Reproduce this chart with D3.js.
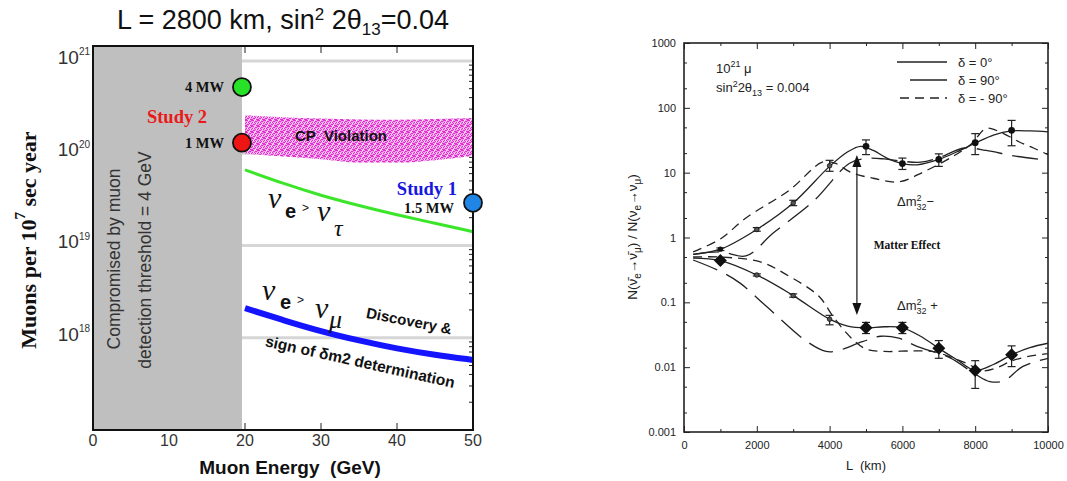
<!DOCTYPE html>
<html><head><meta charset="utf-8">
<script src="https://cdn.jsdelivr.net/npm/d3@7"></script>
<style>body{margin:0;background:#fff} text{white-space:pre}</style>
</head><body><svg id="c" width="1067" height="481"></svg>
<script>
// ---------- LEFT PANEL DATA ----------
const energyGrid   = [20, 25, 30, 35, 40, 45, 50];
const nuTauLimit   = [6.6e19, 4.7e19, 3.47e19, 2.7e19, 2.14e19, 1.74e19, 1.41e19];
const nuMuLimit    = [2.09e18, 1.55e18, 1.17e18, 9.3e17, 7.6e17, 6.5e17, 5.75e17];
const cpTop        = [2.57e20, 2.45e20, 2.38e20, 2.32e20, 2.3e20, 2.35e20, 2.4e20];
const cpBottom     = [9.9e19, 9.2e19, 8.6e19, 7.9e19, 7.9e19, 8.4e19, 9.4e19];
const facilityLabels = ["4 MW", "1 MW", "1.5 MW"];
const facilityEnergy = [19.6, 19.6, 50];
const facilityMuons  = [5.2e20, 1.3e20, 2.9e19];
const thresholdEnergy = 19.6;
const leftXTicks   = [0, 10, 20, 30, 40, 50];
const leftYDecades = [1e18, 1e19, 1e20, 1e21];
const leftYExps    = ["18", "19", "20", "21"];

// ---------- RIGHT PANEL DATA ----------
const upperDelta0   = [[250,0.55],[1000,0.66],[2000,1.33],[3000,3.4],[4000,12.5],[4500,21],[4850,25.5],[5200,22],[5600,16.5],[6000,13.8],[6400,13.2],[7000,16],[7500,21],[8000,28.5],[8500,38],[9000,44],[9500,44],[10000,42.5]];
const upperDeltaM90 = [[250,0.6],[1000,0.95],[1700,2],[2900,5.4],[3800,14.5],[4150,14],[4600,10],[5200,8.2],[5900,7.2],[6600,10.4],[7400,18],[7900,28],[8300,48],[8700,42],[9200,30],[9600,24],[10000,19]];
const upperDelta90  = [[250,0.55],[1000,0.6],[1700,0.52],[2450,1.17],[3550,3.6],[4550,14],[5000,16.5],[5500,16.3],[6000,15],[6500,14.5],[7000,17],[7700,24],[8300,22],[9100,18],[10000,15.5]];
const lowerDelta0   = [[250,0.48],[1000,0.44],[2000,0.264],[3000,0.127],[4000,0.055],[4500,0.043],[5000,0.0405],[5500,0.042],[6000,0.0405],[6500,0.03],[7000,0.0195],[7500,0.013],[8000,0.0089],[8500,0.011],[9000,0.0155],[9500,0.02],[10000,0.0234]];
const lowerDeltaM90 = [[250,0.5],[1000,0.5],[2100,0.42],[2800,0.27],[3700,0.125],[4100,0.06],[4600,0.028],[5000,0.019],[5500,0.0175],[6300,0.0178],[6900,0.0172],[7400,0.0137],[7800,0.0112],[8200,0.0088],[8600,0.0098],[9000,0.0125],[9500,0.0148],[10000,0.0162]];
const lowerDelta90  = [[250,0.45],[1000,0.3],[1550,0.196],[2270,0.086],[3370,0.025],[3900,0.0175],[4200,0.0178],[4900,0.0247],[5400,0.03],[5900,0.028],[6400,0.021],[7300,0.014],[8000,0.0078],[8400,0.006],[8800,0.0062],[9300,0.0102],[10000,0.0137]];

const pointL        = [1000, 2000, 3000, 4000, 5000, 6000, 7000, 8000, 9000];
const upperPoints   = [0.66, 1.33, 3.4, 12.8, 25.5, 13.8, 16, 29, 45];
const upperErrLo    = [0.63, 1.25, 3.1, 10.5, 19, 11.2, 12.5, 19, 26];
const upperErrHi    = [0.69, 1.42, 3.75, 15.5, 32, 16.8, 19.5, 40, 64];
const lowerPoints   = [0.44, 0.264, 0.127, 0.055, 0.0405, 0.0405, 0.0195, 0.0089, 0.0155];
const lowerErrLo    = [0.42, 0.255, 0.12, 0.045, 0.033, 0.033, 0.0137, 0.0047, 0.0102];
const lowerErrHi    = [0.46, 0.275, 0.135, 0.063, 0.049, 0.049, 0.0257, 0.0126, 0.0213];
const bigMarker     = [true, false, false, false, true, true, true, true, true];
const rightXTicks   = [0, 2000, 4000, 6000, 8000, 10000];
const rightXMinor   = [1000, 3000, 5000, 7000, 9000];
const rightYDecades = [0.001, 0.01, 0.1, 1, 10, 100, 1000];
const rightYLabels  = ["0.001", "0.01", "0.1", "1", "10", "100", "1000"];
const arrowL = 4750, arrowTop = 18.7, arrowBottom = 0.064;
const legendLabels = ["δ = 0°", "δ = 90°", "δ = - 90°"];

// ---------- helpers ----------
const svg = d3.select("#c");
svg.append("rect").attr("width", 1067).attr("height", 481).attr("fill", "#fff");

function rich(t, parts, base) {
  let cur = 0;
  parts.forEach(p => {
    const [s, type, opt] = p; const o = opt || {};
    const target = type === "sup" ? -base * (o.raise || 0.4) : type === "sub" ? base * (o.drop || 0.3) : 0;
    const ts = t.append("tspan").text(s).attr("dy", (target - cur).toFixed(2));
    if (type) ts.attr("font-size", o.size || base * 0.65);
    if (o.dx !== undefined) ts.attr("dx", o.dx);
    cur = target;
  });
}

const defs = svg.append("defs");
const pat = defs.append("pattern").attr("id", "cpPat").attr("width", 6).attr("height", 6).attr("patternUnits", "userSpaceOnUse");
pat.append("rect").attr("width", 6).attr("height", 6).attr("fill", "#f2a0e9");
[[0,0],[1,0],[3,1],[4,1],[5,0],[0,2],[2,2],[3,3],[5,3],[1,4],[2,4],[4,5],[0,5],[5,5]].forEach(([x, y]) =>
  pat.append("rect").attr("x", x).attr("y", y).attr("width", 1).attr("height", 1).attr("fill", "#dd30cc"));
[[2,0],[4,3],[1,2],[3,5]].forEach(([x, y]) =>
  pat.append("rect").attr("x", x).attr("y", y).attr("width", 1).attr("height", 1).attr("fill", "#fff0fc"));

// ================= LEFT PANEL =================
const xL = d3.scaleLinear().domain([0, 50]).range([93, 473]);
const yL = d3.scaleLog().domain([1e17, 1.45e21]).range([430, 46]);
const gL = svg.append("g");
const serif = "Liberation Serif, Times New Roman, serif";
const sans = "Liberation Sans, Arial, sans-serif";

yL.ticks().forEach(v => {
  const major = Math.abs(Math.log10(v) - Math.round(Math.log10(v))) < 1e-6;
  gL.append("line").attr("x1", xL(50)).attr("x2", xL(50) - (major ? 8 : 4))
    .attr("y1", yL(v)).attr("y2", yL(v)).attr("stroke", "#222").attr("stroke-width", 1);
});
leftXTicks.forEach(v => {
  gL.append("line").attr("x1", xL(v)).attr("x2", xL(v)).attr("y1", 430).attr("y2", 423).attr("stroke", "#222");
  gL.append("line").attr("x1", xL(v)).attr("x2", xL(v)).attr("y1", 46).attr("y2", 53).attr("stroke", "#222");
});

leftYDecades.forEach(v => {
  gL.append("line").attr("x1", xL(thresholdEnergy)).attr("x2", xL(50)).attr("y1", yL(v)).attr("y2", yL(v))
    .attr("stroke", "#d6d6d6").attr("stroke-width", 3);
});

gL.append("rect").attr("x", xL(0)).attr("y", yL.range()[1]).attr("width", xL(thresholdEnergy) - xL(0))
  .attr("height", yL.range()[0] - yL.range()[1]).attr("fill", "#bfbfbf");
gL.append("text").attr("transform", `translate(120,259) rotate(-90)`).attr("text-anchor", "middle")
  .attr("font-family", sans).attr("font-size", 17.5).attr("fill", "#333").text("Compromised by muon");
gL.append("text").attr("transform", `translate(151,260) rotate(-90)`).attr("text-anchor", "middle")
  .attr("font-family", sans).attr("font-size", 17.5).attr("fill", "#333").text("detection threshold = 4 GeV");

const cpData = energyGrid.map((e, i) => ({ e, lo: cpBottom[i], hi: cpTop[i] }));
gL.append("path").datum(cpData)
  .attr("d", d3.area().x(d => xL(d.e)).y0(d => yL(d.lo)).y1(d => yL(d.hi)).curve(d3.curveMonotoneX))
  .attr("fill", "url(#cpPat)");
gL.append("text").attr("x", 341).attr("y", 141).attr("text-anchor", "middle")
  .attr("font-family", sans).attr("font-weight", "bold").attr("font-size", 15).attr("fill", "#111").text("CP  Violation");

const lineL = d3.line().x(d => xL(d[0])).y(d => yL(d[1])).curve(d3.curveBasis);
gL.append("path").attr("d", lineL(energyGrid.map((e, i) => [e, nuTauLimit[i]])))
  .attr("fill", "none").attr("stroke", "#3be52a").attr("stroke-width", 3);
gL.append("path").attr("d", lineL(energyGrid.map((e, i) => [e, nuMuLimit[i]])))
  .attr("fill", "none").attr("stroke", "#1414ff").attr("stroke-width", 6);

gL.append("rect").attr("x", xL(0)).attr("y", 46).attr("width", xL(50) - xL(0)).attr("height", 384)
  .attr("fill", "none").attr("stroke", "#111").attr("stroke-width", 2);

const facColors = ["#27e227", "#ee1515", "#1f86e6"];
facilityLabels.forEach((lab, i) => {
  gL.append("circle").attr("cx", xL(facilityEnergy[i])).attr("cy", yL(facilityMuons[i])).attr("r", 9)
    .attr("fill", facColors[i]).attr("stroke", "#111").attr("stroke-width", 1.8);
});
const lab = (x, y, s, anchor, size, color) => gL.append("text").attr("x", x).attr("y", y).attr("text-anchor", anchor)
  .attr("font-family", serif).attr("font-weight", "bold").attr("font-size", size).attr("fill", color).text(s);
lab(224, yL(facilityMuons[0]) + 5, facilityLabels[0], "end", 14.5, "#111");
lab(224, yL(facilityMuons[1]) + 5, facilityLabels[1], "end", 14.5, "#111");
lab(454, 213, facilityLabels[2], "end", 14.5, "#111");
lab(177, 123, "Study 2", "middle", 18.5, "#e81a1a");
lab(457, 195, "Study 1", "end", 18.5, "#1717e0");

const nuTxt = (x, y, s, size, fam, style, weight) => gL.append("text").attr("x", x).attr("y", y)
  .attr("font-family", fam).attr("font-size", size).attr("font-style", style || "normal")
  .attr("font-weight", weight || "normal").attr("fill", "#111").text(s);
nuTxt(268, 208, "ν", 30, serif, "italic");
nuTxt(285, 218, "e", 20, sans, "normal", "bold");
nuTxt(302, 212, ">", 12, sans);
nuTxt(317, 221, "ν", 30, serif, "italic");
nuTxt(334, 236, "τ", 24, serif, "italic");

nuTxt(262, 300, "ν", 30, serif, "italic");
nuTxt(280, 309, "e", 20, sans, "normal", "bold");
nuTxt(297, 304, ">", 12, sans);
nuTxt(315, 318, "ν", 30, serif, "italic");
nuTxt(329, 328, "μ", 26, serif, "italic");
gL.append("text").attr("transform", "translate(408,326) rotate(11)").attr("text-anchor", "middle")
  .attr("font-family", sans).attr("font-weight", "bold").attr("font-size", 15).attr("fill", "#111").text("Discovery &");
gL.append("text").attr("transform", "translate(359,367) rotate(12.5)").attr("text-anchor", "middle")
  .attr("font-family", sans).attr("font-weight", "bold").attr("font-size", 15.5).attr("fill", "#111")
  .text("sign of δm2 determination");

leftYDecades.forEach((v, i) => {
  const t = gL.append("text").attr("x", 90).attr("y", yL(v) + 3).attr("text-anchor", "end")
    .attr("font-family", sans).attr("font-size", 19).attr("fill", "#333");
  rich(t, [["10", null], [leftYExps[i], "sup", { size: 10, raise: 0.45 }]], 19);
});
leftXTicks.forEach(v => {
  gL.append("text").attr("x", xL(v)).attr("y", 446).attr("text-anchor", "middle")
    .attr("font-family", sans).attr("font-size", 16).attr("fill", "#333").text(v);
});
gL.append("text").attr("x", 290).attr("y", 474).attr("text-anchor", "middle")
  .attr("font-family", sans).attr("font-weight", "bold").attr("font-size", 19).attr("fill", "#111")
  .text("Muon Energy  (GeV)");
{
  const t = gL.append("text").attr("transform", "translate(36,240) rotate(-90)").attr("text-anchor", "middle")
    .attr("font-family", serif).attr("font-weight", "bold").attr("font-size", 22).attr("fill", "#111");
  rich(t, [["Muons per 10", null], ["7", "sup", { size: 15, raise: 0.5 }], [" sec year", null]], 22);
}
{
  const t = gL.append("text").attr("x", 283).attr("y", 29).attr("text-anchor", "middle")
    .attr("font-family", sans).attr("font-size", 27).attr("fill", "#111");
  rich(t, [["L = 2800 km, sin", null], ["2", "sup", { size: 17, raise: 0.33 }], [" 2θ", null], ["13", "sub", { size: 17, drop: 0.22 }], ["=0.04", null]], 27);
}

// ================= RIGHT PANEL =================
const xR = d3.scaleLinear().domain([0, 10000]).range([684, 1048]);
const yR = d3.scaleLog().domain([0.001, 1000]).range([432, 43]);
const gR = svg.append("g");
const tickFont = "Liberation Sans, Arial, sans-serif";

const minorY = [];
rightYDecades.slice(0, -1).forEach(d => { minorY.push(d * 2, d * 5); });

gR.append("g").attr("transform", `translate(${xR(0)},0)`)
  .call(d3.axisLeft(yR).tickValues(rightYDecades).tickSize(-6).tickPadding(8).tickFormat((d, i) => rightYLabels[i]));
gR.append("g").attr("transform", `translate(${xR(0)},0)`).call(d3.axisLeft(yR).tickValues(minorY).tickSize(-3).tickFormat(""));
gR.append("g").attr("transform", `translate(${xR(10000)},0)`).call(d3.axisRight(yR).tickValues(rightYDecades).tickSize(-6).tickFormat(""));
gR.append("g").attr("transform", `translate(${xR(10000)},0)`).call(d3.axisRight(yR).tickValues(minorY).tickSize(-3).tickFormat(""));
gR.append("g").attr("transform", `translate(0,${yR(0.001)})`)
  .call(d3.axisBottom(xR).tickValues(rightXTicks).tickSize(-6).tickPadding(9).tickFormat(d => d));
gR.append("g").attr("transform", `translate(0,${yR(0.001)})`).call(d3.axisBottom(xR).tickValues(rightXMinor).tickSize(-3).tickFormat(""));
gR.append("g").attr("transform", `translate(0,${yR(1000)})`).call(d3.axisTop(xR).tickValues(rightXTicks).tickSize(-6).tickFormat(""));
gR.append("g").attr("transform", `translate(0,${yR(1000)})`).call(d3.axisTop(xR).tickValues(rightXMinor).tickSize(-3).tickFormat(""));
gR.selectAll(".domain").remove();
gR.selectAll(".tick line").attr("stroke", "#222");
gR.selectAll(".tick text").attr("font-family", tickFont).attr("font-size", 11).attr("fill", "#222");
gR.append("rect").attr("x", xR(0)).attr("y", yR(1000)).attr("width", xR(10000) - xR(0)).attr("height", yR(0.001) - yR(1000))
  .attr("fill", "none").attr("stroke", "#222").attr("stroke-width", 1.6);

const clip = defs.append("clipPath").attr("id", "rclip");
clip.append("rect").attr("x", xR(0)).attr("y", yR(1000)).attr("width", xR(10000) - xR(0)).attr("height", yR(0.001) - yR(1000));
const lineR = d3.line().x(d => xR(d[0])).y(d => yR(d[1])).curve(d3.curveCatmullRom.alpha(0.5));
const curveG = gR.append("g").attr("clip-path", "url(#rclip)");
const shortDash = "9,6", longDash = "26,10";
[[upperDelta0, null], [upperDeltaM90, shortDash], [upperDelta90, longDash],
 [lowerDelta0, null], [lowerDeltaM90, shortDash], [lowerDelta90, longDash]].forEach(([data, dash]) => {
  const p = curveG.append("path").attr("d", lineR(data)).attr("fill", "none").attr("stroke", "#222").attr("stroke-width", 1.3);
  if (dash) p.attr("stroke-dasharray", dash);
});

function drawPoints(vals, lo, hi, kind) {
  pointL.forEach((L, i) => {
    const x = xR(L);
    gR.append("line").attr("x1", x).attr("x2", x).attr("y1", yR(lo[i])).attr("y2", yR(hi[i])).attr("stroke", "#222").attr("stroke-width", 1.2);
    [lo[i], hi[i]].forEach(v => gR.append("line").attr("x1", x - 4).attr("x2", x + 4).attr("y1", yR(v)).attr("y2", yR(v)).attr("stroke", "#222").attr("stroke-width", 1.2));
    const y = yR(vals[i]);
    if (kind === "diamond" && bigMarker[i]) {
      gR.append("path").attr("d", `M${x},${y - 6.5}L${x + 6.5},${y}L${x},${y + 6.5}L${x - 6.5},${y}Z`).attr("fill", "#111");
    } else if (bigMarker[i]) {
      gR.append("circle").attr("cx", x).attr("cy", y).attr("r", i === 0 ? 2.6 : 3.4).attr("fill", "#111");
    } else {
      gR.append("circle").attr("cx", x).attr("cy", y).attr("r", 2.3).attr("fill", "#555").attr("stroke", "#111").attr("stroke-width", 0.8);
    }
  });
}
drawPoints(upperPoints, upperErrLo, upperErrHi, "circle");
drawPoints(lowerPoints, lowerErrLo, lowerErrHi, "diamond");

{
  const x = xR(arrowL), yt = yR(arrowTop), yb = yR(arrowBottom);
  gR.append("line").attr("x1", x).attr("x2", x).attr("y1", yt + 8).attr("y2", yb - 8).attr("stroke", "#222").attr("stroke-width", 1.3);
  gR.append("path").attr("d", `M${x},${yt}L${x + 4.5},${yt + 12}L${x - 4.5},${yt + 12}Z`).attr("fill", "#111");
  gR.append("path").attr("d", `M${x},${yb}L${x + 4.5},${yb - 12}L${x - 4.5},${yb - 12}Z`).attr("fill", "#111");
}
gR.append("text").attr("x", 907).attr("y", 249).attr("text-anchor", "middle")
  .attr("font-family", serif).attr("font-weight", "bold").attr("font-size", 11.5).attr("fill", "#111").text("Matter Effect");
{
  const t = gR.append("text").attr("x", 897).attr("y", 206).attr("font-family", tickFont).attr("font-size", 13).attr("fill", "#222");
  rich(t, [["Δm", null], ["2", "sup", { size: 9, raise: 0.4 }], ["32", "sub", { size: 9, drop: 0.3, dx: -5 }], ["−", null]], 13);
  const t2 = gR.append("text").attr("x", 897).attr("y", 310).attr("font-family", tickFont).attr("font-size", 13).attr("fill", "#222");
  rich(t2, [["Δm", null], ["2", "sup", { size: 9, raise: 0.4 }], ["32", "sub", { size: 9, drop: 0.3, dx: -5 }], [" +", null]], 13);
}

{
  const t = gR.append("text").attr("x", 716).attr("y", 73).attr("font-family", tickFont).attr("font-size", 13).attr("fill", "#222");
  rich(t, [["10", null], ["21", "sup", { size: 9, raise: 0.45 }], [" μ", null]], 13);
  const t2 = gR.append("text").attr("x", 716).attr("y", 92).attr("font-family", tickFont).attr("font-size", 13).attr("fill", "#222");
  rich(t2, [["sin", null], ["2", "sup", { size: 9, raise: 0.4 }], ["2θ", null], ["13", "sub", { size: 9, drop: 0.3 }], [" = 0.004", null]], 13);
}

const legY = [62, 80, 98], legX1 = [897, 910, 900];
legendLabels.forEach((lb, i) => {
  const l = gR.append("line").attr("x1", legX1[i]).attr("x2", 947).attr("y1", legY[i]).attr("y2", legY[i])
    .attr("stroke", "#222").attr("stroke-width", 1.3);
  if (i === 2) l.attr("stroke-dasharray", "9,6");
  gR.append("text").attr("x", 958).attr("y", legY[i] + 5).attr("font-family", tickFont).attr("font-size", 13)
    .attr("fill", "#222").text(lb);
});

gR.append("text").attr("x", 866).attr("y", 470).attr("text-anchor", "middle").attr("font-family", tickFont)
  .attr("font-size", 13).attr("fill", "#222").text("L  (km)");
{
  const t = gR.append("text").attr("transform", "translate(637,237) rotate(-90)").attr("text-anchor", "middle")
    .attr("font-family", tickFont).attr("font-size", 13.5).attr("fill", "#222");
  rich(t, [["N(ν\u0304", null], ["e", "sub", { size: 10 }], ["→ν\u0304", null], ["μ", "sub", { size: 10 }],
           [") / N(ν", null], ["e", "sub", { size: 10 }], ["→ν", null], ["μ", "sub", { size: 10 }], [")", null]], 13.5);
}
</script></body></html>
